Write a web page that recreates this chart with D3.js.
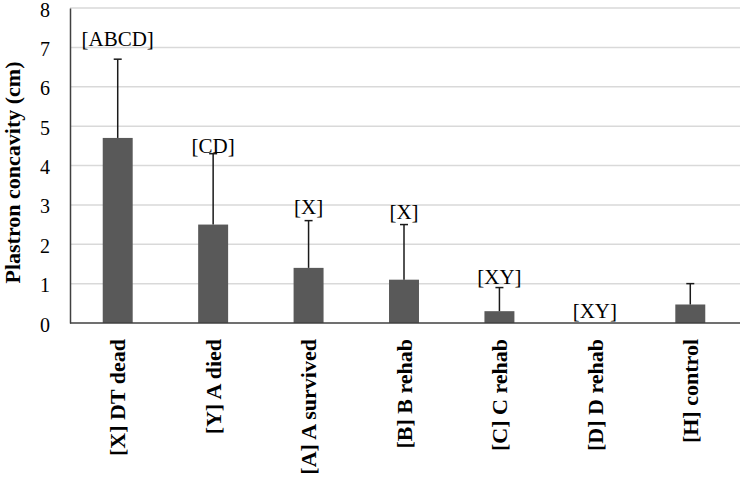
<!DOCTYPE html>
<html>
<head>
<meta charset="utf-8">
<script src="https://cdn.jsdelivr.net/npm/d3@7"></script>
<style>
	body { margin: 0; background: #fff; }
</style>
</head>
<body>
<div class="chart"></div>
<script>
var WIDTH = 740,
	HEIGHT = 481;

var LEFT = 70, RIGHT = 738, TOP = 8, BOTTOM = 323;
var FONT = "'Liberation Serif'";

var categories = ["[X] DT dead", "[Y] A died", "[A] A survived", "[B] B rehab", "[C] C rehab", "[D] D rehab", "[H] control"];
var means = [4.7, 2.5, 1.4, 1.1, 0.3, 0, 0.47];
var upper = [6.7, 4.3, 2.6, 2.5, 0.9, 0, 1.0];
var letters = ["[ABCD]", "[CD]", "[X]", "[X]", "[XY]", "[XY]", ""];
var yTicks = [0, 1, 2, 3, 4, 5, 6, 7, 8];

var svg = d3.select(".chart").append("svg")
	.attr("width", WIDTH)
	.attr("height", HEIGHT);

var xScale = d3.scaleBand()
	.domain(categories)
	.range([LEFT, RIGHT])
	.paddingInner(0.686)
	.paddingOuter(0.343);

var yScale = d3.scaleLinear()
	.domain([0, 8])
	.range([BOTTOM, TOP]);

// gridlines
svg.append("g")
	.selectAll("line")
	.data(yTicks.slice(1))
	.enter().append("line")
	.attr("x1", LEFT)
	.attr("x2", RIGHT + 2)
	.attr("y1", function(d) { return yScale(d); })
	.attr("y2", function(d) { return yScale(d); })
	.attr("stroke", "#d9d9d9")
	.attr("stroke-width", 1.5);

// y axis
var yAxis = d3.axisLeft(yScale)
	.tickValues(yTicks)
	.tickSize(0)
	.tickPadding(20);

var yAxisGroup = svg.append("g")
	.attr("transform", "translate(" + LEFT + ",0)")
	.call(yAxis)
	.attr("font-family", null)
	.attr("font-size", null);
yAxisGroup.select(".domain").attr("stroke", "#404040").attr("stroke-width", 1.5);
yAxisGroup.selectAll("text")
	.attr("fill", "#000")
	.attr("dy", "0.4em")
	.style("font-size", "20px")
	.style("font-family", FONT);

// bars
svg.append("g")
	.selectAll("rect")
	.data(categories)
	.enter().append("rect")
	.attr("x", function(d) { return xScale(d); })
	.attr("width", xScale.bandwidth())
	.attr("y", function(d, i) { return yScale(means[i]); })
	.attr("height", function(d, i) { return yScale(0) - yScale(means[i]); })
	.attr("fill", "#595959");

// error bars (upper only)
var err = svg.append("g")
	.selectAll("g")
	.data(categories.filter(function(d, i) { return upper[i] > means[i]; }))
	.enter().append("g")
	.attr("stroke", "#1a1a1a")
	.attr("stroke-width", 1.5);

err.append("line")
	.attr("x1", function(d) { return xScale(d) + xScale.bandwidth() / 2; })
	.attr("x2", function(d) { return xScale(d) + xScale.bandwidth() / 2; })
	.attr("y1", function(d) { return yScale(means[categories.indexOf(d)]); })
	.attr("y2", function(d) { return yScale(upper[categories.indexOf(d)]); });

err.append("line")
	.attr("x1", function(d) { return xScale(d) + xScale.bandwidth() / 2 - 4; })
	.attr("x2", function(d) { return xScale(d) + xScale.bandwidth() / 2 + 4; })
	.attr("y1", function(d) { return yScale(upper[categories.indexOf(d)]); })
	.attr("y2", function(d) { return yScale(upper[categories.indexOf(d)]); });

// x axis line
svg.append("line")
	.attr("x1", LEFT)
	.attr("x2", RIGHT + 2)
	.attr("y1", yScale(0))
	.attr("y2", yScale(0))
	.attr("stroke", "#404040")
	.attr("stroke-width", 1.5);

// significance letters (hand placed in the original, small nudges)
var nudge = [-13, -1, -7, -6, -4, -5, 0];
svg.append("g")
	.selectAll("text")
	.data(letters)
	.enter().append("text")
	.attr("x", function(d, i) { return xScale(categories[i]) + xScale.bandwidth() / 2; })
	.attr("y", function(d, i) { return yScale(upper[i]) + nudge[i]; })
	.attr("text-anchor", "middle")
	.style("font-family", FONT)
	.style("font-size", "21px")
	.attr("fill", "#000")
	.text(function(d) { return d; });

// category labels
svg.append("g")
	.selectAll("text")
	.data(categories)
	.enter().append("text")
	.attr("transform", function(d) {
		return "translate(" + (xScale(d) + xScale.bandwidth() / 2) + "," + (yScale(0) + 16) + ") rotate(-90)";
	})
	.attr("dy", "0.35em")
	.attr("text-anchor", "end")
	.style("font-family", FONT)
	.style("font-size", "22px")
	.style("font-weight", "bold")
	.attr("fill", "#000")
	.text(function(d) { return d; });

// y title
svg.append("text")
	.attr("transform", "translate(12," + ((TOP + BOTTOM) / 2 + 7) + ") rotate(-90)")
	.attr("dy", "0.35em")
	.attr("text-anchor", "middle")
	.style("font-family", FONT)
	.style("font-size", "22px")
	.style("font-weight", "bold")
	.attr("fill", "#000")
	.text("Plastron concavity (cm)");
</script>
</body>
</html>
